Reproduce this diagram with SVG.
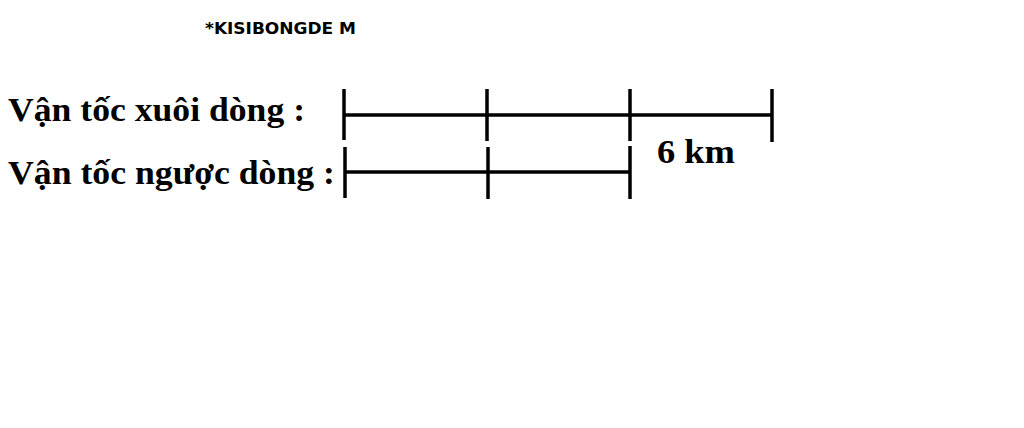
<svg xmlns="http://www.w3.org/2000/svg" width="1024" height="428" viewBox="0 0 1024 428">
<style>
.lbl{font-family:"Liberation Serif","Times New Roman",serif;font-weight:bold;font-size:34px;fill:#000}
.seg{stroke:#000;stroke-width:3.5;fill:none}
.wm{font-family:"Liberation Sans Narrow","DejaVu Sans Condensed","Liberation Sans",sans-serif;font-weight:bold;font-size:15px;fill:#000}
</style>
<rect width="1024" height="428" fill="#fff"/>
<text class="wm" x="205" y="34" textLength="151" lengthAdjust="spacingAndGlyphs">*KISIBONGDE M</text>
<g id="row1">
<text class="lbl" x="8" y="121" textLength="297" lengthAdjust="spacingAndGlyphs">Vận tốc xuôi dòng :</text>
</g>
<g id="row2">
<text class="lbl" x="8" y="184" textLength="327" lengthAdjust="spacingAndGlyphs">Vận tốc ngược dòng :</text>
</g>
<g id="label6km">
<text class="lbl" x="657" y="163" textLength="78" lengthAdjust="spacingAndGlyphs">6 km</text>
</g>
<g id="connectors">
<line class="seg" x1="344" y1="115" x2="772" y2="115"/>
<line class="seg" x1="344" y1="89" x2="344" y2="140"/>
<line class="seg" x1="487" y1="89" x2="487" y2="141"/>
<line class="seg" x1="630" y1="89" x2="630" y2="141"/>
<line class="seg" x1="772" y1="89" x2="772" y2="142"/>
<line class="seg" x1="344" y1="172" x2="630" y2="172"/>
<line class="seg" x1="345" y1="147" x2="345" y2="198"/>
<line class="seg" x1="488" y1="147" x2="488" y2="199"/>
<line class="seg" x1="630" y1="146" x2="630" y2="199"/>
</g>
</svg>
